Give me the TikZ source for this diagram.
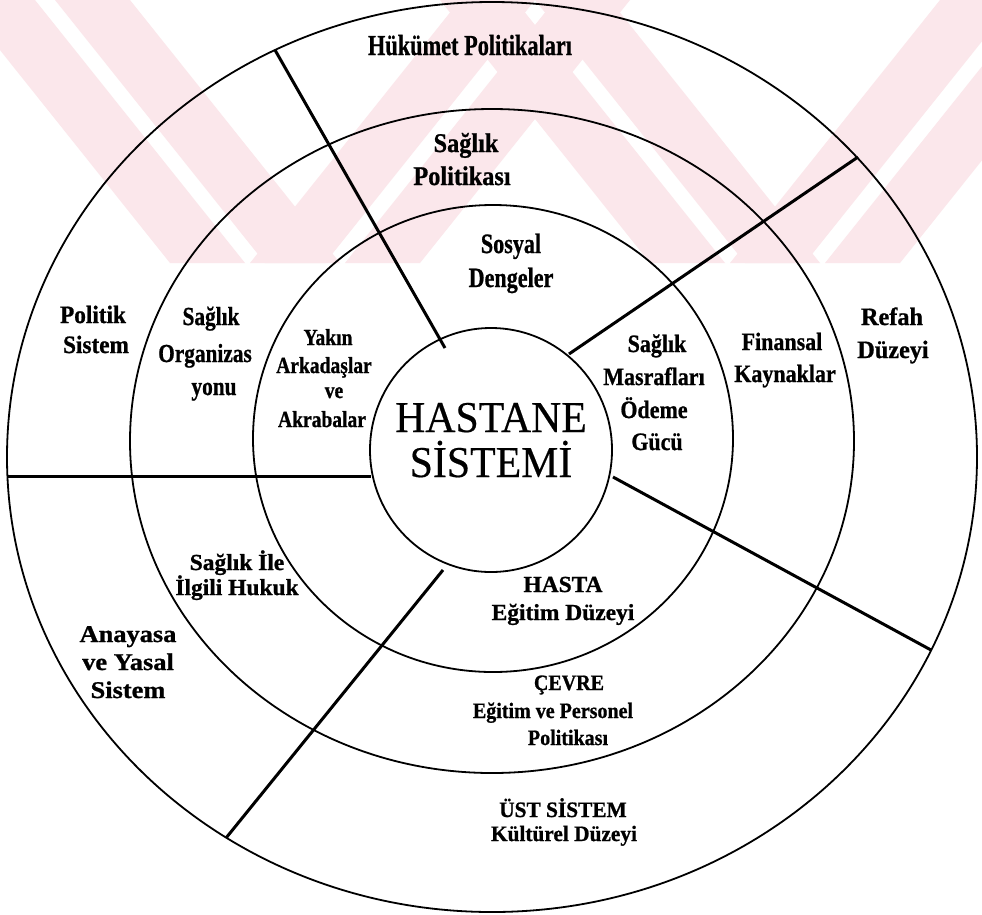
\documentclass[tikz,border=0pt]{standalone}
\usepackage{fontspec}
\setmainfont{Liberation Serif}[UprightFeatures={FakeBold=0.4}, BoldFeatures={FakeBold=0.9}]
\usepackage{graphicx}
\newcommand{\sx}[2]{\scalebox{#1}[1]{#2}}
\usetikzlibrary{shapes.geometric}
\definecolor{wmpink}{HTML}{FBE7EB}
\tikzset{
  ring/.style={draw=black, line width=1.8pt, ellipse, inner sep=0pt, fill=none},
  divider/.style={draw=black, line width=3pt},
  wm/.style={fill=wmpink, draw=none},
  lab/.style={inner sep=0pt, anchor=base, font=\bfseries\fontsize{#1}{#1}\selectfont},
  big/.style={inner sep=0pt, anchor=base, font=\fontsize{44}{44}\selectfont}
}
\begin{document}
\begin{tikzpicture}[x=1pt,y=-1pt]
\useasboundingbox (0,0) rectangle (982,914);
\fill[white] (0,0) rectangle (982,914);
% faint watermark in the upper band
\begin{scope}
\clip (0,0) rectangle (982,263);
\foreach \a in {170,265} {\fill[wm] (\a,263) -- (\a+75,263) -- (\a+75-210,0) -- (\a-210,0) -- cycle;}
\foreach \a in {250,345} {\fill[wm] (\a,263) -- (\a+75,263) -- (\a+75+210,0) -- (\a+210,0) -- cycle;}
\foreach \a in {650,745} {\fill[wm] (\a,263) -- (\a+75,263) -- (\a+75-210,0) -- (\a-210,0) -- cycle;}
\foreach \a in {730,825} {\fill[wm] (\a,263) -- (\a+75,263) -- (\a+75+210,0) -- (\a+210,0) -- cycle;}
\end{scope}
% rings
\node[ring, minimum width=970pt, minimum height=910pt] (outer) at (492,457) {};
\node[ring, minimum width=724pt, minimum height=664pt] (second) at (492,441) {};
\node[ring, minimum width=480pt, minimum height=467pt] (third) at (493,438.5) {};
\node[ring, minimum width=242pt, minimum height=244pt] (core) at (491,450) {};
% dividers
\coordinate (l1a) at (275,50);  \coordinate (l1b) at (445,348);
\coordinate (l2a) at (858,157); \coordinate (l2b) at (569,354);
\coordinate (l3a) at (7.5,476); \coordinate (l3b) at (371,476);
\coordinate (l4a) at (613,477); \coordinate (l4b) at (931,650);
\coordinate (l5a) at (443,570); \coordinate (l5b) at (226,838);
\draw[divider] (l1a) -- (l1b);
\draw[divider] (l2a) -- (l2b);
\draw[divider] (l3a) -- (l3b);
\draw[divider] (l4a) -- (l4b);
\draw[divider] (l5a) -- (l5b);
% labels
\node[lab=29] (hp) at (470,55) {\sx{0.77}{Hükümet Politikaları}};
\node[lab=27] (sp1) at (466,152) {\sx{0.9}{Sağlık}};
\node[lab=27] (sp2) at (462,185) {\sx{0.9}{Politikası}};
\node[lab=28] (sd1) at (511,253) {\sx{0.79}{Sosyal}};
\node[lab=28] (sd2) at (511,287) {\sx{0.79}{Dengeler}};
\node[lab=25] (ps1) at (93,323) {\sx{0.93}{Politik}};
\node[lab=25] (ps2) at (96,353) {\sx{0.93}{Sistem}};
\node[lab=26] (so1) at (211,325) {\sx{0.82}{Sağlık}};
\node[lab=26] (so2) at (205,362) {\sx{0.82}{Organizas}};
\node[lab=26] (so3) at (214,395) {\sx{0.82}{yonu}};
\node[lab=23] (ya1) at (328,345) {\sx{0.85}{Yakın}};
\node[lab=23] (ya2) at (324,373) {\sx{0.85}{Arkadaşlar}};
\node[lab=23] (ya3) at (334,398) {\sx{0.85}{ve}};
\node[lab=23] (ya4) at (322,427) {\sx{0.85}{Akrabalar}};
\node[lab=25] (sm1) at (657,352) {\sx{0.88}{Sağlık}};
\node[lab=25] (sm2) at (654,385) {\sx{0.88}{Masrafları}};
\node[lab=25] (sm3) at (654,418) {\sx{0.88}{Ödeme}};
\node[lab=25] (sm4) at (657,450) {\sx{0.88}{Gücü}};
\node[lab=25] (fk1) at (782,350) {\sx{0.88}{Finansal}};
\node[lab=25] (fk2) at (785,382) {\sx{0.88}{Kaynaklar}};
\node[lab=25] (rd1) at (892,325) {\sx{0.97}{Refah}};
\node[lab=25] (rd2) at (893,358) {\sx{0.97}{Düzeyi}};
\node[lab=23] (sh1) at (237,570) {\sx{1.02}{Sağlık İle}};
\node[lab=23] (sh2) at (237,595) {\sx{1.02}{İlgili Hukuk}};
\node[lab=24] (ay1) at (128,642) {\sx{1.1}{Anayasa}};
\node[lab=24] (ay2) at (128,670) {\sx{1.1}{ve Yasal}};
\node[lab=24] (ay3) at (128,698) {\sx{1.1}{Sistem}};
\node[lab=23] (ha1) at (563,592) {\sx{1.02}{HASTA}};
\node[lab=23] (ha2) at (563,620) {\sx{1.02}{Eğitim Düzeyi}};
\node[lab=22] (ce1) at (569,690) {\sx{0.91}{ÇEVRE}};
\node[lab=22] (ce2) at (553,718) {\sx{0.91}{Eğitim ve Personel}};
\node[lab=22] (ce3) at (568,745) {\sx{0.91}{Politikası}};
\node[lab=22] (us1) at (563,817) {\sx{0.97}{ÜST SİSTEM}};
\node[lab=22] (us2) at (564,841) {\sx{0.97}{Kültürel Düzeyi}};
\node[big] (hs1) at (491,432) {\sx{0.95}{HASTANE}};
\node[big] (hs2) at (491,477) {\sx{0.95}{SİSTEMİ}};
\end{tikzpicture}
\end{document}
